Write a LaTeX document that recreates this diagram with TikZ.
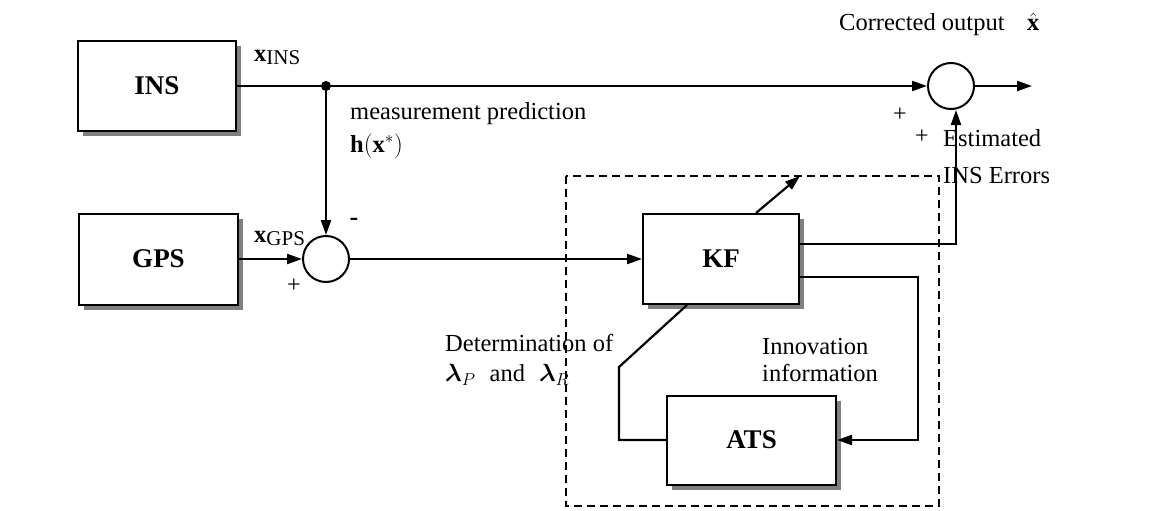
\documentclass[tikz,border=0pt]{standalone}
\usepackage{bm}
\usepackage{fontspec}
\setmainfont{Liberation Serif}
\usetikzlibrary{arrows.meta}
\tikzset{
  blk/.style={draw, line width=2pt, fill=white, minimum width=#1, inner sep=0pt,
    font=\fontsize{27}{30}\selectfont\bfseries},
  shadowed/.style={preaction={fill=black!50, draw=none, transform canvas={xshift=5pt,yshift=-5pt}}},
  sumc/.style={draw, circle, line width=2pt, minimum size=46pt, inner sep=0pt},
  wire/.style={line width=2.2pt},
  arr/.style={wire, -{Triangle[length=15pt,width=10pt]}},
  lbl/.style={font=\fontsize{24.5}{29}\selectfont, inner sep=0pt, align=left},
  sgn/.style={font=\fontsize{24}{24}\selectfont, inner sep=0pt},
  dashbox/.style={line width=1.7pt, dash pattern=on 8pt off 5pt}
}
\begin{document}
\begin{tikzpicture}[x=1pt,y=-1pt]
\useasboundingbox (0,0) rectangle (1156,511);
% blocks
\node[blk=158pt, minimum height=90pt, shadowed] (ins) at (157,86) {INS};
\node[blk=159pt, minimum height=91pt, shadowed] (gps) at (158.5,259) {GPS};
\node[blk=156pt, minimum height=90pt, shadowed] (kf) at (721,259) {KF};
\node[blk=169pt, minimum height=89pt, shadowed] (ats) at (751.5,440) {ATS};
% summing junctions
\node[sumc] (s1) at (326,259) {};
\node[sumc] (s2) at (951,86) {};
\coordinate (j) at (326,86);
\coordinate (out) at (1032,86);
\fill (j) circle (5pt);
% dashed frame
\draw[dashbox] (566,176) rectangle (939,506);
% connectors
\draw[arr] (ins.east) -- (s2.west);
\draw[arr] (j) -- (s1.north);
\draw[arr] (gps.east) -- (s1.west);
\draw[arr] (s1.east) -- (kf.west);
\draw[arr] (s2.east) -- (out);
\draw[arr] ([yshift=15pt]kf.east) -| ([xshift=5pt]s2.south);
\coordinate (r1) at (918,277);
\draw[arr] ([yshift=-18pt]kf.east) -- (r1) |- (ats.east);
\coordinate (l1) at (619,367);
\draw[wire] (ats.west) -| (l1) -- ([xshift=-34pt]kf.south);
\coordinate (kfo) at (800,176);
\draw[arr] ([xshift=35pt]kf.north) -- (kfo);
% labels
\node[lbl, anchor=west] (lxins) at (254,57) {$\mathbf{x}$\raisebox{-3pt}{\fontsize{21}{24}\selectfont INS}};
\node[lbl, anchor=west] (lxgps) at (254,238) {$\mathbf{x}$\raisebox{-3pt}{\fontsize{21}{24}\selectfont GPS}};
\node[lbl, anchor=west] (lmp) at (350,114) {measurement prediction};
\node[lbl, anchor=west] (lh) at (350,146) {$\mathbf{h}(\mathbf{x}^{*})$};
\node[lbl, anchor=west] (lco) at (839,25) {Corrected output};
\node[lbl, anchor=west] (lxh) at (1027,22) {$\hat{\mathbf{x}}$};
\node[lbl, anchor=west, font=\fontsize{24.5}{37}\selectfont] (lest) at (943,157) {Estimated\\INS Errors};
\node[lbl, anchor=west, font=\fontsize{24.5}{30}\selectfont] (ldet) at (445,360) {Determination of\\$\bm{\lambda}_P$\hspace{14pt}and\hspace{14pt}$\bm{\lambda}_R$};
\node[lbl, anchor=west, font=\fontsize{24.5}{27}\selectfont] (linn) at (762,360) {Innovation\\information};
\node[sgn] (p1) at (900,115) {+};
\node[sgn] (p2) at (922,137) {+};
\node[sgn] (p3) at (294,286) {+};
\node[font=\fontsize{26}{26}\selectfont\bfseries, inner sep=0pt] (m1) at (354,222) {-};
\end{tikzpicture}
\end{document}
